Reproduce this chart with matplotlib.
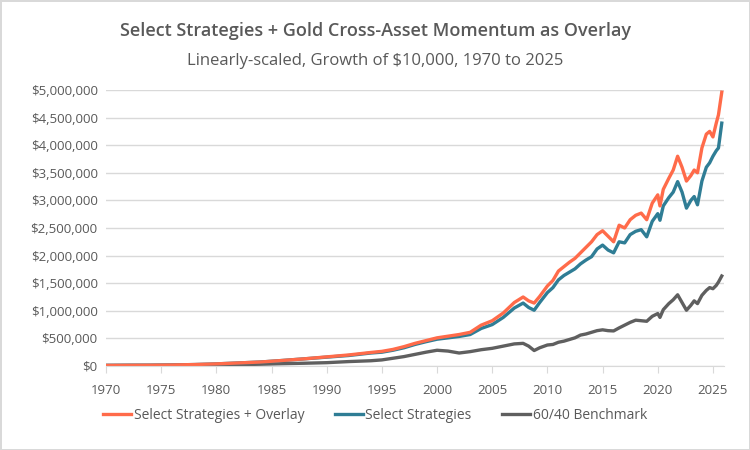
import matplotlib
matplotlib.use("Agg")
import matplotlib.pyplot as plt
from matplotlib.ticker import FuncFormatter, MultipleLocator

plt.rcParams['font.family'] = ['Open Sans', 'DejaVu Sans']

# decimal years, values in $ thousands
years = [1970, 1972, 1974, 1976, 1978, 1980, 1982, 1984, 1986, 1988, 1990, 1992, 1994,
         1995, 1996, 1997, 1998, 1999, 2000, 2001, 2002, 2003, 2004, 2005, 2006, 2007,
         2007.8, 2008.3, 2008.8, 2009.3, 2010, 2010.5, 2011, 2011.5, 2012, 2012.5, 2013,
         2013.5, 2014, 2014.5, 2015, 2015.5, 2016, 2016.5, 2017, 2017.5, 2018, 2018.5,
         2019, 2019.5, 2020, 2020.2, 2020.5, 2021, 2021.4, 2021.8, 2022.2, 2022.6, 2023,
         2023.3, 2023.6, 2024, 2024.4, 2024.7, 2025, 2025.3, 2025.5, 2025.8]

overlay = [10, 12, 14, 18, 26, 38, 55, 72, 100, 130, 165, 200, 245,
           265, 300, 350, 410, 460, 510, 540, 570, 610, 740, 820, 960, 1150,
           1250, 1180, 1140, 1260, 1450, 1550, 1720, 1800, 1880, 1950, 2050,
           2150, 2250, 2380, 2450, 2350, 2250, 2550, 2500, 2650, 2730, 2770,
           2650, 2950, 3100, 2900, 3200, 3400, 3550, 3800, 3600, 3350, 3450,
           3550, 3500, 3950, 4200, 4250, 4150, 4400, 4550, 4960]

strategies = [10, 12, 14, 18, 26, 38, 55, 72, 100, 130, 160, 190, 235,
              250, 285, 330, 390, 440, 485, 510, 535, 570, 680, 750, 880, 1050,
              1140, 1060, 1010, 1150, 1330, 1420, 1560, 1640, 1700, 1760, 1850,
              1920, 1980, 2120, 2190, 2100, 2050, 2250, 2230, 2380, 2440, 2470,
              2340, 2620, 2760, 2640, 2900, 3050, 3150, 3340, 3150, 2860, 3000,
              3070, 2920, 3350, 3600, 3680, 3800, 3900, 3950, 4400]

benchmark = [10, 12, 11, 14, 16, 20, 24, 32, 42, 50, 60, 80, 95,
             110, 140, 170, 210, 250, 285, 270, 235, 260, 295, 320, 360, 400,
             410, 360, 280, 330, 380, 390, 430, 450, 480, 510, 560,
             580, 610, 640, 655, 640, 635, 690, 740, 790, 830, 820,
             810, 900, 950, 880, 1020, 1130, 1200, 1290, 1150, 1010, 1100,
             1180, 1130, 1280, 1370, 1420, 1400, 1460, 1520, 1630]

series = [
    ("Select Strategies + Overlay", overlay, "#FF6B4A"),
    ("Select Strategies", strategies, "#2F7D95"),
    ("60/40 Benchmark", benchmark, "#5F5F5F"),
]

text_col = "#595959"
grid_col = "#D9D9D9"

fig = plt.figure(figsize=(7.5, 4.5), dpi=100)
fig.patch.set_edgecolor(grid_col)
fig.patch.set_linewidth(2)
ax = fig.add_axes([0.1413, 0.1867, 0.824, 0.6133])

# draw benchmark first so strategies sit on top, overlay on the very top
for name, vals, col in series[::-1]:
    ax.plot(years, [v * 1000 for v in vals], color=col, lw=2.4, label=name,
            solid_joinstyle='round')

ax.set_xlim(1970, 2026)
ax.set_ylim(0, 5000000)
ax.xaxis.set_major_locator(MultipleLocator(5))
ax.yaxis.set_major_locator(MultipleLocator(500000))
ax.yaxis.set_major_formatter(FuncFormatter(lambda v, p: f"${v:,.0f}"))
ax.grid(axis='y', color=grid_col, lw=1)
ax.set_axisbelow(True)
for s in ['top', 'right', 'left']:
    ax.spines[s].set_visible(False)
ax.spines['bottom'].set_color(grid_col)
ax.tick_params(axis='y', length=0, labelsize=9.5, colors=text_col, pad=6)
ax.tick_params(axis='x', length=5, color=grid_col, labelsize=9.5, labelcolor=text_col, pad=8)

fig.text(0.5, 0.931, "Select Strategies + Gold Cross-Asset Momentum as Overlay",
         ha='center', va='center', fontsize=13, fontweight='semibold', color=text_col)
fig.text(0.5, 0.864, "Linearly-scaled, Growth of $10,000, 1970 to 2025",
         ha='center', va='center', fontsize=12, color=text_col)

handles, labels = ax.get_legend_handles_labels()
leg = fig.legend(handles[::-1], labels[::-1], loc='center', bbox_to_anchor=(0.5, 0.076),
                 ncol=3, frameon=False, fontsize=10, handlelength=2.0, handletextpad=0.2,
                 columnspacing=2.2)
for t in leg.get_texts():
    t.set_color(text_col)

fig.savefig("out.png", dpi=100)
